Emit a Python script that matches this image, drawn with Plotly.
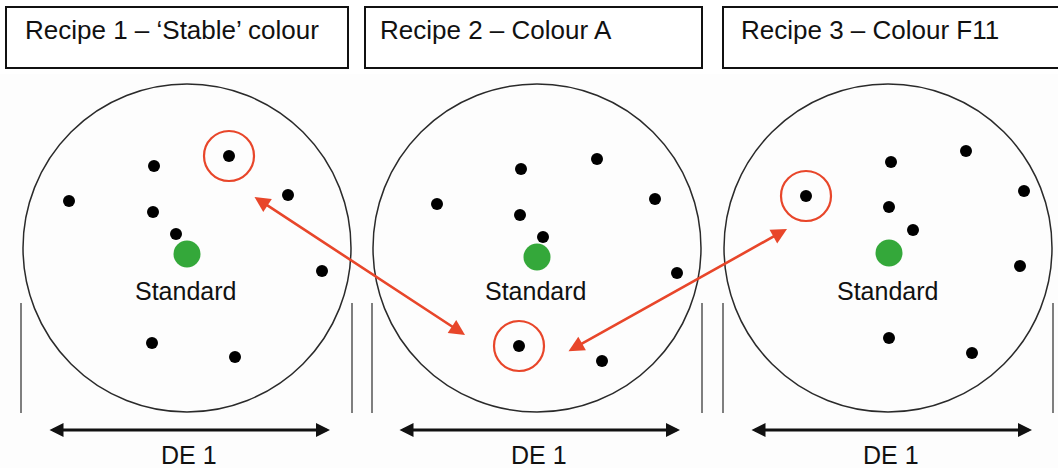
import plotly.graph_objects as go

# ---------------- data (chart units: x 0..1058 left->right, y 0..468 top->bottom) ----------------
recipe_titles = ["Recipe 1 \u2013 \u2018Stable\u2019 colour", "Recipe 2 \u2013 Colour A", "Recipe 3 \u2013 Colour F11"]
title_box_x0 = [6, 365, 723]
title_box_x1 = [348, 702, 1075]
title_text_x = [23, 378, 739]

circle_cx = [187, 537, 888]
circle_cy = [248, 248, 248]
circle_r = [164, 164, 164]

standard_x = [187, 537, 889]
standard_y = [254, 257, 253]
standard_label = "Standard"

r1_x = [154, 229, 69, 288, 153, 176, 322, 152, 235]
r1_y = [166, 156, 201, 195, 212, 234, 271, 343, 357]
r2_x = [521, 597, 437, 655, 520, 543, 677, 519, 602]
r2_y = [169, 159, 204, 199, 215, 237, 273, 346, 361]
r3_x = [891, 966, 806, 1024, 889, 913, 1020, 889, 972]
r3_y = [162, 151, 196, 191, 207, 230, 266, 338, 353]
highlight_idx = [1, 7, 2]

# red double arrows (tail -> head), linking highlighted points
link_x0 = [253, 567]
link_y0 = [196, 352]
link_x1 = [465, 787]
link_y1 = [335, 229]

# tangent lines
vline_x = [21, 352, 372, 702, 723, 1053]
vline_y0 = 303
vline_y1 = 413

# DE arrows
de_x0 = [48, 398, 750]
de_x1 = [330, 680, 1032]
de_y = 430
de_label = "DE 1"

# ---------------- figure ----------------
W, H = 1058, 468
FONT = "Liberation Sans, Arial, Helvetica, sans-serif"
RED = "#e8462a"
GREEN = "#34a83a"

fig = go.Figure()
shapes = []
annotations = []

# very faint off-white background for diagram area
shapes.append(dict(type="rect", xref="x", yref="y", x0=0, x1=W, y0=74, y1=H,
                   line=dict(width=0), fillcolor="#fdfdfd", layer="below"))

for i in range(3):
    shapes.append(dict(type="rect", xref="x", yref="y", x0=title_box_x0[i], x1=title_box_x1[i],
                       y0=7, y1=68, line=dict(color="#111111", width=2), fillcolor="white"))
    annotations.append(dict(x=title_text_x[i], y=30, xref="x", yref="y", text=recipe_titles[i],
                            showarrow=False, xanchor="left", yanchor="middle",
                            font=dict(family=FONT, size=26, color="#111111")))
    shapes.append(dict(type="circle", xref="x", yref="y",
                       x0=circle_cx[i] - circle_r[i], x1=circle_cx[i] + circle_r[i],
                       y0=circle_cy[i] - circle_r[i], y1=circle_cy[i] + circle_r[i],
                       line=dict(color="#2a2a2a", width=1.5)))
    annotations.append(dict(x=standard_x[i] - 2, y=291, xref="x", yref="y", text=standard_label,
                            showarrow=False, xanchor="center", yanchor="middle",
                            font=dict(family=FONT, size=25, color="#111111")))
    annotations.append(dict(x=(de_x0[i] + de_x1[i]) / 2, y=455, xref="x", yref="y", text=de_label,
                            showarrow=False, xanchor="center", yanchor="middle",
                            font=dict(family=FONT, size=25, color="#111111")))
    annotations.append(dict(x=de_x1[i], y=de_y, ax=de_x0[i], ay=de_y, xref="x", yref="y",
                            axref="x", ayref="y", text="", showarrow=True,
                            arrowhead=2, startarrowhead=2, arrowside="end+start",
                            arrowsize=1, startarrowsize=1, arrowwidth=2.8, arrowcolor="#111111"))

for xv in vline_x:
    shapes.append(dict(type="line", xref="x", yref="y", x0=xv, x1=xv, y0=vline_y0, y1=vline_y1,
                       line=dict(color="#555555", width=1.5)))

samples = [(r1_x, r1_y), (r2_x, r2_y), (r3_x, r3_y)]
for i, (xs, ys) in enumerate(samples):
    fig.add_trace(go.Scatter(x=xs, y=ys, mode="markers", showlegend=False, hoverinfo="skip",
                             marker=dict(size=12, color="#000000", line=dict(width=0))))
    hx, hy = xs[highlight_idx[i]], ys[highlight_idx[i]]
    shapes.append(dict(type="circle", xref="x", yref="y", x0=hx - 25, x1=hx + 25,
                       y0=hy - 25, y1=hy + 25, line=dict(color=RED, width=2.2)))

fig.add_trace(go.Scatter(x=standard_x, y=standard_y, mode="markers", showlegend=False, hoverinfo="skip",
                         marker=dict(size=27, color=GREEN, line=dict(width=0))))

for k in range(len(link_x0)):
    annotations.append(dict(x=link_x1[k], y=link_y1[k], ax=link_x0[k], ay=link_y0[k],
                            xref="x", yref="y", axref="x", ayref="y", text="", showarrow=True,
                            arrowhead=2, startarrowhead=2, arrowside="end+start",
                            arrowsize=1.2, startarrowsize=1.2, arrowwidth=2.6, arrowcolor=RED))

fig.update_layout(
    width=W, height=H, margin=dict(l=0, r=0, t=0, b=0),
    paper_bgcolor="white", plot_bgcolor="white",
    xaxis=dict(range=[0, W], visible=False, fixedrange=True),
    yaxis=dict(range=[H, 0], visible=False, fixedrange=True),
    shapes=shapes, annotations=annotations,
)

fig.write_html("out.html", config={"displayModeBar": False},
               post_script="document.body.style.margin='0';document.body.style.overflow='hidden';")
